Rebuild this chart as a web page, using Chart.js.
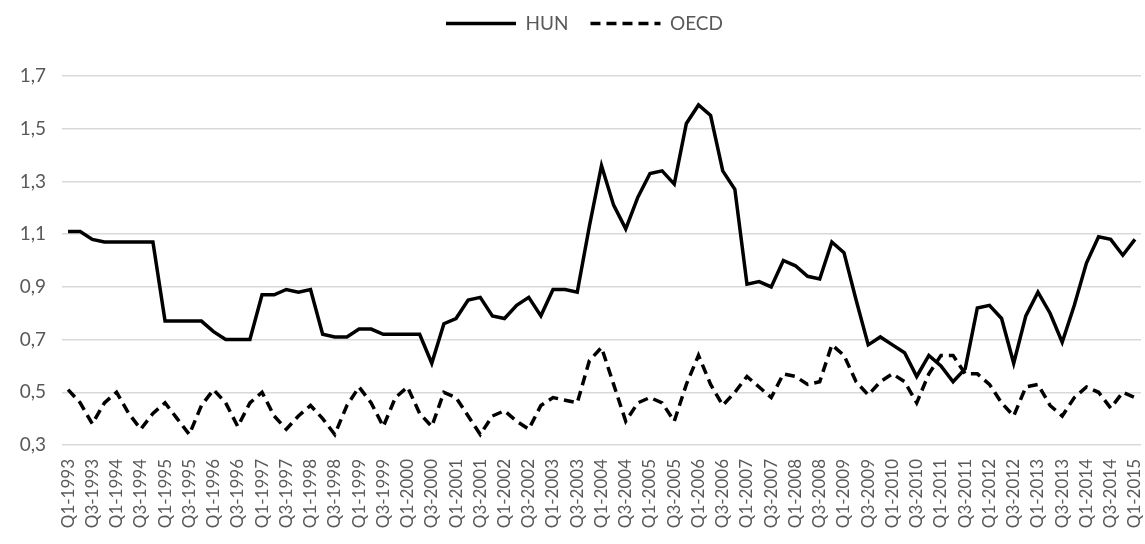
<!DOCTYPE html>
<html>
<head>
<meta charset="utf-8">
<script src="https://cdn.jsdelivr.net/npm/chart.js@4"></script>
<style>
  html, body { margin: 0; padding: 0; background: #fff; }
  #wrap { width: 1145px; height: 544px; position: relative; }
</style>
</head>
<body>
<div id="wrap"><canvas id="myChart"></canvas></div>
<script>
/* globals Chart:false */

// Quarters Q1-1993 .. Q1-2015
const years = []
for (let y = 1993; y <= 2015; y++) years.push(y)
const quarters = []
years.forEach(y => {
  for (let q = 1; q <= 4; q++) {
    if (y === 2015 && q > 1) break
    quarters.push('Q' + q + '-' + y)
  }
})

const hun = [
  1.11, 1.11, 1.08, 1.07, 1.07, 1.07, 1.07, 1.07, 0.77, 0.77,
  0.77, 0.77, 0.73, 0.70, 0.70, 0.70, 0.87, 0.87, 0.89, 0.88,
  0.89, 0.72, 0.71, 0.71, 0.74, 0.74, 0.72, 0.72, 0.72, 0.72,
  0.61, 0.76, 0.78, 0.85, 0.86, 0.79, 0.78, 0.83, 0.86, 0.79,
  0.89, 0.89, 0.88, 1.13, 1.36, 1.21, 1.12, 1.24, 1.33, 1.34,
  1.29, 1.52, 1.59, 1.55, 1.34, 1.27, 0.91, 0.92, 0.90, 1.00,
  0.98, 0.94, 0.93, 1.07, 1.03, 0.85, 0.68, 0.71, 0.68, 0.65,
  0.56, 0.64, 0.60, 0.54, 0.59, 0.82, 0.83, 0.78, 0.61, 0.79,
  0.88, 0.80, 0.69, 0.83, 0.99, 1.09, 1.08, 1.02, 1.08
]

const oecd = [
  0.51, 0.46, 0.38, 0.46, 0.50, 0.42, 0.36, 0.42, 0.46, 0.40,
  0.34, 0.45, 0.51, 0.46, 0.37, 0.46, 0.50, 0.41, 0.36, 0.41,
  0.45, 0.40, 0.34, 0.45, 0.52, 0.46, 0.37, 0.48, 0.52, 0.42,
  0.37, 0.50, 0.48, 0.41, 0.34, 0.41, 0.43, 0.39, 0.36, 0.45,
  0.48, 0.47, 0.46, 0.62, 0.67, 0.53, 0.39, 0.46, 0.48, 0.46,
  0.39, 0.53, 0.64, 0.53, 0.45, 0.50, 0.56, 0.52, 0.48, 0.57,
  0.56, 0.53, 0.54, 0.68, 0.64, 0.54, 0.49, 0.54, 0.57, 0.54,
  0.46, 0.57, 0.64, 0.64, 0.57, 0.57, 0.53, 0.46, 0.41, 0.52,
  0.53, 0.45, 0.41, 0.48, 0.52, 0.50, 0.44, 0.50, 0.48
]

const yMin = 0.3
const yMax = 1.7
const yStep = 0.2

const textColor = '#595959'
const gridColor = '#d9d9d9'

Chart.defaults.font.family = 'Lato, "Open Sans", sans-serif'
Chart.defaults.color = textColor

// push the plot down below the legend, nudge legend right
const legendGap = {
  id: 'legendGap',
  beforeInit (chart) {
    const origFit = chart.legend.fit
    chart.legend.fit = function fit () {
      origFit.bind(chart.legend)()
      this.height += 33
    }
  },
  afterLayout (chart) {
    chart.legend.left += 14
    chart.legend.right += 14
  }
}

const ctx = document.getElementById('myChart')

// eslint-disable-next-line no-unused-vars
const myChart = new Chart(ctx, {
  type: 'line',
  data: {
    labels: quarters,
    datasets: [{
      label: 'HUN',
      data: hun,
      borderColor: '#000',
      backgroundColor: '#000',
      borderWidth: 3.5,
      pointRadius: 0,
      lineTension: 0
    }, {
      label: 'OECD',
      data: oecd,
      borderColor: '#000',
      backgroundColor: '#000',
      borderWidth: 3.5,
      borderDash: [10, 6],
      pointRadius: 0,
      lineTension: 0
    }]
  },
  plugins: [legendGap],
  options: {
    responsive: true,
    maintainAspectRatio: false,
    animation: false,
    layout: {
      padding: { top: -8, right: 4, left: 0, bottom: 0 }
    },
    plugins: {
      legend: {
        position: 'top',
        labels: {
          usePointStyle: true,
          pointStyle: 'line',
          pointStyleWidth: 70,
          padding: 22,
          color: textColor,
          font: { size: 19 },
          generateLabels: chart => {
            const items = Chart.defaults.plugins.legend.labels.generateLabels(chart)
            items.forEach(it => {
              const ds = chart.data.datasets[it.datasetIndex]
              it.lineDash = ds.borderDash || []
              it.lineWidth = 3.5
              it.pointStyle = 'line'
            })
            return items
          }
        }
      },
      tooltip: { enabled: false }
    },
    scales: {
      x: {
        offset: true,
        afterFit: scale => {
          scale.height = 99
          scale.paddingLeft = 0
          scale.paddingRight = 0
        },
        grid: { display: false },
        border: { display: false },
        ticks: {
          autoSkip: false,
          minRotation: 90,
          maxRotation: 90,
          padding: 6,
          font: { size: 17 },
          color: textColor,
          callback: function (value, index) {
            return index % 2 === 0 ? this.getLabelForValue(value) : ''
          }
        }
      },
      y: {
        min: yMin,
        max: yMax,
        afterFit: scale => { scale.width = 62 },
        grid: { color: gridColor, lineWidth: 1.5, drawTicks: false },
        border: { display: false },
        ticks: {
          stepSize: yStep,
          padding: 16,
          font: { size: 19 },
          color: textColor,
          callback: v => v.toFixed(1).replace('.', ',')
        }
      }
    }
  }
})
</script>
</body>
</html>
